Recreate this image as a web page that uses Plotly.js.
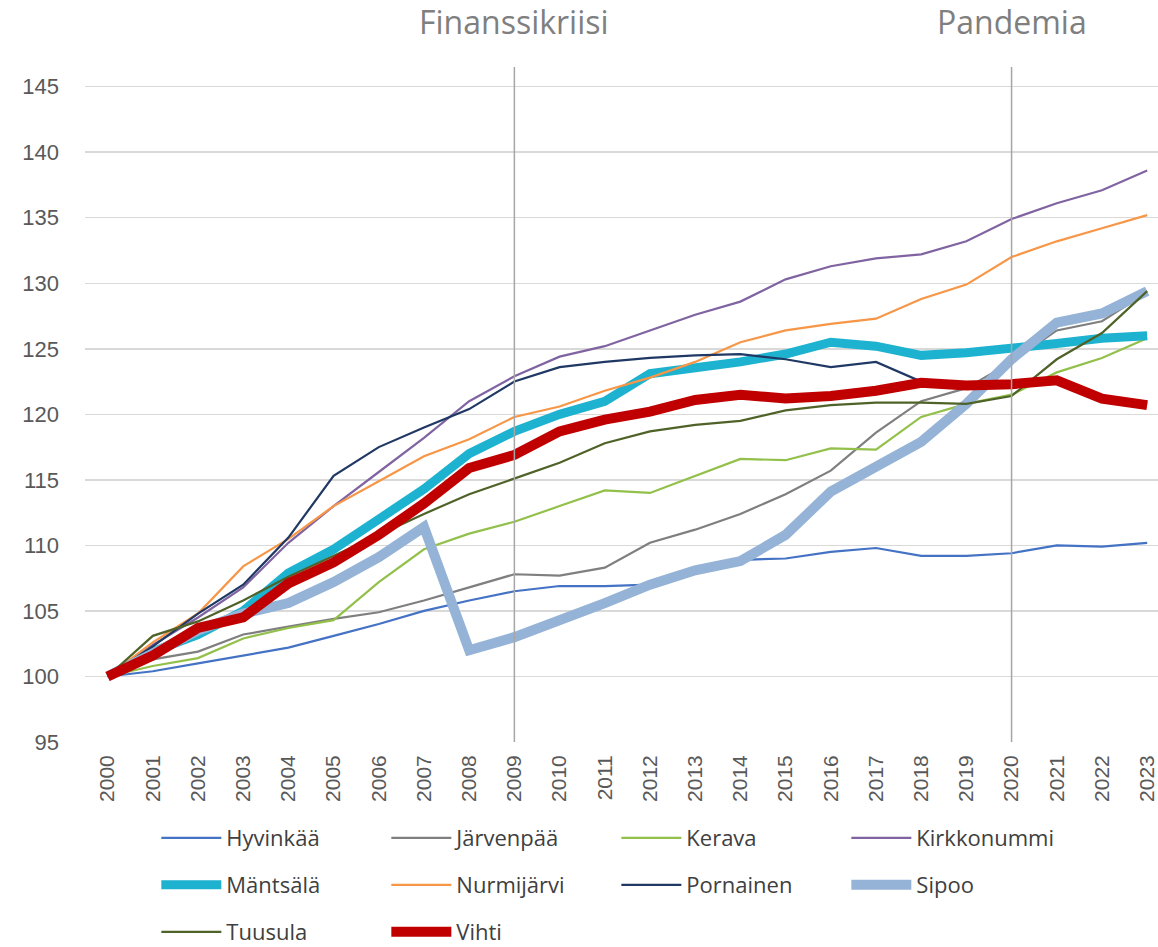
<!DOCTYPE html>
<html>
<head>
<meta charset="utf-8">
<script src="https://cdn.plot.ly/plotly-3.0.1.min.js"></script>
<style>html,body{margin:0;padding:0;background:#fff;}#chart{width:1158px;height:947px;}</style>
</head>
<body>
<div id="chart"></div>
<script>
const years = [2000,2001,2002,2003,2004,2005,2006,2007,2008,2009,2010,2011,2012,2013,2014,2015,2016,2017,2018,2019,2020,2021,2022,2023];

const hyvinkaa   = [100,100.4,101.0,101.6,102.2,103.1,104.0,105.0,105.8,106.5,106.9,106.9,107.0,108.0,108.9,109.0,109.5,109.8,109.2,109.2,109.4,110.0,109.9,110.2];
const jarvenpaa  = [100,101.3,101.9,103.2,103.8,104.4,104.9,105.8,106.8,107.8,107.7,108.3,110.2,111.2,112.4,113.9,115.7,118.6,121.0,122.0,124.0,126.4,127.1,129.3];
const kerava     = [100,100.8,101.4,102.9,103.7,104.3,107.2,109.7,110.9,111.8,113.0,114.2,114.0,115.3,116.6,116.5,117.4,117.3,119.8,120.8,121.5,123.2,124.3,125.8];
const kirkkonummi= [100,102.4,104.5,106.8,110.2,113.0,115.6,118.2,121.0,122.9,124.4,125.2,126.4,127.6,128.6,130.3,131.3,131.9,132.2,133.2,134.9,136.1,137.1,138.6];
const mantsala   = [100,101.9,103.2,105.0,107.9,109.7,112.0,114.3,117.0,118.7,120.0,121.0,123.1,123.5,124.0,124.6,125.5,125.2,124.5,124.7,125.0,125.4,125.8,126.0];
const nurmijarvi = [100,102.6,104.8,108.4,110.5,113.0,114.9,116.8,118.1,119.8,120.6,121.8,122.8,124.0,125.5,126.4,126.9,127.3,128.8,129.9,132.0,133.2,134.2,135.2];
const pornainen  = [100,102.3,104.8,107.0,110.6,115.3,117.5,119.0,120.4,122.5,123.6,124.0,124.3,124.5,124.6,124.2,123.6,124.0,122.5,122.3,122.3,122.5,121.3,120.8];
const sipoo      = [100,101.8,103.5,104.8,105.6,107.2,109.1,111.4,102.0,103.0,104.2,105.6,107.0,108.1,108.8,110.8,114.1,116.0,117.9,120.8,124.2,127.0,127.7,129.4];
const tuusula    = [100,103.1,104.2,105.8,107.6,109.2,110.8,112.4,113.9,115.1,116.3,117.8,118.7,119.2,119.5,120.3,120.7,120.9,120.9,120.8,121.4,124.2,126.2,129.4];
const vihti      = [100,101.6,103.7,104.5,107.1,108.7,110.8,113.2,115.9,116.9,118.7,119.6,120.2,121.1,121.5,121.2,121.4,121.8,122.4,122.2,122.3,122.6,121.2,120.7];

const seriesNames = ['Hyvinkää','Järvenpää','Kerava','Kirkkonummi','Mäntsälä','Nurmijärvi','Pornainen','Sipoo','Tuusula','Vihti'];
const seriesData  = [hyvinkaa,jarvenpaa,kerava,kirkkonummi,mantsala,nurmijarvi,pornainen,sipoo,tuusula,vihti];
const seriesColors= ['#4472C4','#7F7F7F','#92C04A','#8064A2','#1DB2CF','#F79646','#1F3864','#95B3D7','#4F6228','#C00000'];
const seriesWidths= [2.2,2.2,2.2,2.2,9,2.2,2.2,10,2.2,10];

const eventYears  = [2009, 2020];
const eventLabels = ['Finanssikriisi', 'Pandemia'];

const legendIds = ['legend','legend2','legend3'];
const traces = seriesNames.map((n,i)=>({
  x: years, y: seriesData[i], name: n, type: 'scatter', mode: 'lines',
  line: {color: seriesColors[i], width: seriesWidths[i]},
  legend: legendIds[Math.floor(i/4)]
}));

const shapes = eventYears.map(y=>({
  type:'line', xref:'x', yref:'paper', x0:y, x1:y, y0:0, y1:1,
  line:{color:'#A6A6A6', width:1.5}
}));
const annotations = eventYears.map((y,i)=>({
  x:y, xref:'x', yref:'paper', y:1.067, yanchor:'middle', xanchor:'center',
  text: eventLabels[i], showarrow:false,
  font:{family:'Open Sans, sans-serif', size:32, color:'#7F7F7F'}
}));

function legendAt(yCenterPx){
  return {orientation:'h', xref:'container', yref:'container', x:0.135, y:1 - yCenterPx/947,
    xanchor:'left', yanchor:'middle',
    entrywidth:155, entrywidthmode:'pixels', itemwidth:60,
    font:{family:'Open Sans, sans-serif', size:22, color:'#404040'},
    bgcolor:'rgba(0,0,0,0)'};
}

const layout = {
  width:1158, height:947,
  margin:{l:85, r:0, t:67, b:205},
  paper_bgcolor:'#fff', plot_bgcolor:'#fff',
  showlegend:true,
  xaxis:{range:[1999.5, 2023.24], tickmode:'array', tickvals: years, ticktext: years.map(String),
    tickangle:-90, showgrid:false, zeroline:false, showline:false,
    tickfont:{family:'Liberation Sans, Arial, sans-serif', size:21, color:'#595959'},
    ticks:'', ticklabelstandoff:8},
  yaxis:{range:[95, 146.5], tickvals:[95,100,105,110,115,120,125,130,135,140,145],
    showgrid:true, gridcolor:'#D9D9D9', gridwidth:1.5, zeroline:false, showline:false,
    tickfont:{family:'Liberation Sans, Arial, sans-serif', size:22, color:'#595959'},
    ticks:'', ticklabelstandoff:25},
  legend: legendAt(838),
  legend2: legendAt(885),
  legend3: legendAt(932),
  shapes: shapes,
  annotations: annotations
};

Plotly.newPlot('chart', traces, layout, {displayModeBar:false, staticPlot:true});
</script>
</body>
</html>
